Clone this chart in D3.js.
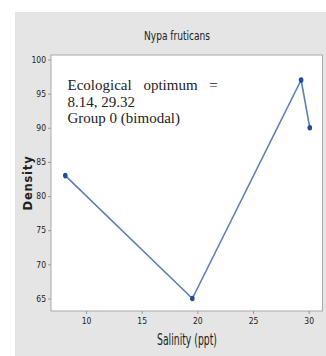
<!DOCTYPE html>
<html>
<head>
<meta charset="UTF-8">
<script src="https://cdnjs.cloudflare.com/ajax/libs/d3/7.8.5/d3.min.js"></script>
<style>
    body { margin: 0; background: #fff; }
    svg { display: block; }
    .tick text { font-family: 'Liberation Sans Narrow', 'DejaVu Sans Condensed', sans-serif; font-size: 8.5px; fill: #222; }
</style>
</head>
<body>
<svg id="chart" width="326" height="356"></svg>
<script>
// data
var salinity = [8.14, 19.55, 29.32, 30.1];
var density = [83, 65, 97, 90];
var xTicks = [10, 15, 20, 25, 30];
var yTicks = [65, 70, 75, 80, 85, 90, 95, 100];
var note = ["Ecological optimum =", "8.14, 29.32", "Group 0 (bimodal)"];

var svg = d3.select("#chart");
var narrow = "'Liberation Sans Narrow', 'DejaVu Sans Condensed', sans-serif";

// plot box
var box = { l: 51, r: 322.5, t: 55, b: 311 };

var x = d3.scaleLinear().domain([10, 30]).range([86, 308.7]);
var y = d3.scaleLinear().domain([65, 100]).range([298.5, 59.5]);

// gray backdrop
svg.append("rect").attr("x", 15).attr("y", 12).attr("width", 311).attr("height", 344)
    .attr("fill", "#e5e5e5");
svg.append("rect").attr("x", box.l).attr("y", box.t)
    .attr("width", box.r - box.l).attr("height", box.b - box.t)
    .attr("fill", "#fff").attr("stroke", "#a9a9a9").attr("stroke-width", 1);

// axes
var gx = svg.append("g").attr("transform", "translate(0," + box.b + ")")
    .call(d3.axisBottom(x).tickValues(xTicks).tickSize(3).tickPadding(4));
var gy = svg.append("g").attr("transform", "translate(" + box.l + ",0)")
    .call(d3.axisLeft(y).tickValues(yTicks).tickSize(3).tickPadding(2));
[gx, gy].forEach(function(g) {
    g.select(".domain").remove();
    g.selectAll(".tick line").attr("stroke", "#999");
});

// title and axis labels
svg.append("text").attr("x", 177).attr("y", 40).attr("text-anchor", "middle")
    .attr("font-family", narrow).attr("font-size", 13).attr("fill", "#222")
    .attr("textLength", 66).attr("lengthAdjust", "spacingAndGlyphs")
    .text("Nypa fruticans");
svg.append("text").attr("x", 187).attr("y", 345).attr("text-anchor", "middle")
    .attr("font-family", narrow).attr("font-size", 15).attr("fill", "#222")
    .attr("textLength", 60).attr("lengthAdjust", "spacingAndGlyphs")
    .text("Salinity (ppt)");
svg.append("text").attr("transform", "translate(32,183) rotate(-90)")
    .attr("text-anchor", "middle")
    .attr("font-family", "'DejaVu Sans', sans-serif").attr("font-size", 11.5)
    .attr("font-weight", "bold").attr("letter-spacing", 0.8).attr("fill", "#222")
    .text("Density");

// line and points
var line = d3.line().x(function(d) { return x(d[0]); }).y(function(d) { return y(d[1]); });
var pts = d3.zip(salinity, density);
svg.append("path").datum(pts).attr("d", line)
    .attr("fill", "none").attr("stroke", "#5b80b8").attr("stroke-width", 1.6);
svg.selectAll("ellipse.pt").data(pts).enter().append("ellipse").attr("class", "pt")
    .attr("cx", function(d) { return x(d[0]); })
    .attr("cy", function(d) { return y(d[1]); })
    .attr("rx", 2.3).attr("ry", 2.8)
    .attr("fill", "#1d4d96");

// annotation
svg.append("g").selectAll("text").data(note).enter().append("text")
    .attr("x", 67.5).attr("y", function(d, i) { return 90 + i * 16.7; })
    .attr("font-family", "'Liberation Serif', serif").attr("font-size", 15)
    .attr("fill", "#222")
    .attr("word-spacing", function(d, i) { return i === 0 ? 8 : 0; })
    .text(function(d) { return d; });
</script>
</body>
</html>
